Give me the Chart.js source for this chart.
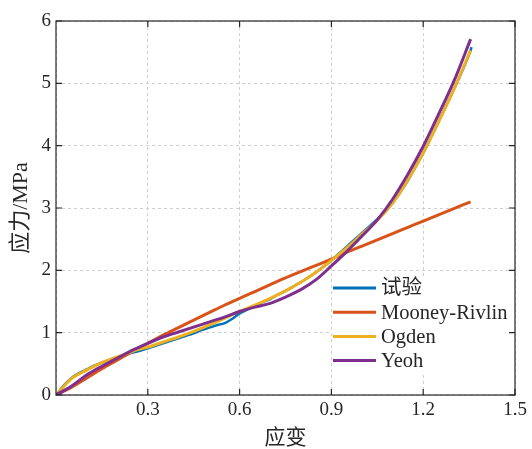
<!DOCTYPE html>
<html>
<head>
<meta charset="utf-8">
<script src="https://cdn.jsdelivr.net/npm/chart.js@4.4.1/dist/chart.umd.min.js"></script>
<style>
html,body{margin:0;padding:0;background:#fff;}
#wrap{width:532px;height:449px;}
</style>
</head>
<body>
<div id="wrap"><canvas id="c" width="532" height="449"></canvas></div>
<script>
const seriesLabels = ['试验', 'Mooney-Rivlin', 'Ogden', 'Yeoh'];
const seriesColors = ['#0072BD', '#D95319', '#EDB120', '#7E2F8E'];
const xTickValues = [0.3, 0.6, 0.9, 1.2, 1.5];
const yTickValues = [0, 1, 2, 3, 4, 5, 6];
const xTitle = '应变';
const yTitle = '应力/MPa';

const testStrain = [0,0.025,0.05,0.075,0.1,0.125,0.15,0.175,0.2,0.225,0.25,0.275,0.3,0.325,0.35,0.375,0.4,0.425,0.45,0.475,0.5,0.525,0.55,0.575,0.6,0.625,0.65,0.675,0.7,0.725,0.75,0.775,0.8,0.825,0.85,0.875,0.9,0.925,0.95,0.975,1.0,1.025,1.05,1.075,1.1,1.125,1.15,1.175,1.2,1.225,1.25,1.275,1.3,1.325,1.35,1.358];
const testStress = [0,0.15,0.27,0.35,0.41,0.47,0.52,0.56,0.60,0.64,0.68,0.71,0.75,0.79,0.83,0.87,0.91,0.95,0.99,1.04,1.08,1.12,1.15,1.22,1.31,1.37,1.43,1.49,1.54,1.61,1.67,1.74,1.81,1.89,1.97,2.06,2.16,2.27,2.38,2.49,2.60,2.71,2.82,2.94,3.08,3.25,3.44,3.66,3.88,4.13,4.38,4.64,4.90,5.17,5.46,5.58];

const modelStrain = [0,0.05,0.1,0.15,0.2,0.25,0.3,0.35,0.4,0.45,0.5,0.55,0.6,0.65,0.7,0.75,0.8,0.85,0.9,0.95,1.0,1.05,1.1,1.15,1.2,1.25,1.3,1.355];
const stressMooney = [0,0.12,0.27,0.42,0.56,0.70,0.83,0.96,1.08,1.20,1.32,1.44,1.55,1.66,1.77,1.88,1.98,2.08,2.18,2.29,2.39,2.49,2.59,2.69,2.79,2.89,2.99,3.10];
const stressOgden = [0,0.26,0.40,0.52,0.61,0.70,0.77,0.85,0.93,1.02,1.12,1.23,1.34,1.44,1.55,1.67,1.81,1.97,2.16,2.36,2.58,2.80,3.08,3.45,3.88,4.38,4.90,5.53];
const stressYeoh = [0,0.14,0.32,0.46,0.59,0.72,0.83,0.93,1.01,1.09,1.17,1.25,1.34,1.41,1.47,1.57,1.69,1.85,2.07,2.30,2.55,2.81,3.14,3.54,3.99,4.50,5.03,5.71];

const pairs = (xs, ys) => xs.map((x, i) => ({x: x, y: ys[i]}));

const FONT = '"Liberation Serif", "Times New Roman", "Noto Sans CJK SC", serif';
const TXT = '#262626';

const framePlugin = {
  id: 'frame',
  afterDatasetsDraw(chart) {
    const ctx = chart.ctx;
    const a = chart.chartArea;
    const xs = chart.scales.x, ys = chart.scales.y;
    // legend (inside plot, lower right, white background)
    const lx = 332, ly0 = 288, step = 24.2;
    ctx.save();
    ctx.fillStyle = '#fff';
    ctx.fillRect(lx, 276, a.right - lx - 1, 98);
    ctx.font = '20.5px ' + FONT;
    ctx.textBaseline = 'middle';
    ctx.textAlign = 'left';
    chart.data.datasets.forEach((ds, i) => {
      const y = ly0 + i * step;
      ctx.strokeStyle = ds.borderColor;
      ctx.lineWidth = 3;
      ctx.beginPath();
      ctx.moveTo(lx + 1, y);
      ctx.lineTo(lx + 44, y);
      ctx.stroke();
      ctx.fillStyle = TXT;
      ctx.fillText(ds.label, lx + 49, y + 1);
    });
    ctx.restore();
    // frame and inward ticks
    ctx.save();
    ctx.strokeStyle = TXT;
    ctx.lineWidth = 1.2;
    ctx.strokeRect(a.left, a.top, a.right - a.left, a.bottom - a.top);
    ctx.beginPath();
    const tl = 6;
    xTickValues.forEach(v => {
      const px = xs.getPixelForValue(v);
      ctx.moveTo(px, a.bottom); ctx.lineTo(px, a.bottom - tl);
      ctx.moveTo(px, a.top); ctx.lineTo(px, a.top + tl);
    });
    yTickValues.forEach(v => {
      const py = ys.getPixelForValue(v);
      ctx.moveTo(a.left, py); ctx.lineTo(a.left + tl, py);
      ctx.moveTo(a.right, py); ctx.lineTo(a.right - tl, py);
    });
    ctx.stroke();
    ctx.restore();
  }
};

new Chart(document.getElementById('c'), {
  type: 'line',
  data: {
    datasets: [
      {label: seriesLabels[0], order: 4, data: pairs(testStrain, testStress), borderColor: seriesColors[0], borderWidth: 2.5, pointRadius: 0, tension: 0.2},
      {label: seriesLabels[1], order: 3, data: pairs(modelStrain, stressMooney), borderColor: seriesColors[1], borderWidth: 3, pointRadius: 0, cubicInterpolationMode: 'monotone'},
      {label: seriesLabels[2], order: 2, data: pairs(modelStrain, stressOgden), borderColor: seriesColors[2], borderWidth: 3, pointRadius: 0, cubicInterpolationMode: 'monotone'},
      {label: seriesLabels[3], order: 1, data: pairs(modelStrain, stressYeoh), borderColor: seriesColors[3], borderWidth: 3, pointRadius: 0, cubicInterpolationMode: 'monotone'}
    ]
  },
  options: {
    responsive: false,
    animation: false,
    devicePixelRatio: 1,
    layout: {padding: {left: 0, right: 17, top: 21, bottom: 0}},
    plugins: {legend: {display: false}, tooltip: {enabled: false}},
    scales: {
      x: {
        type: 'linear', min: 0, max: 1.5,
        afterBuildTicks: s => { s.ticks = [0].concat(xTickValues).map(v => ({value: v})); },
        afterFit: s => { s.height = 54; },
        grid: {color: '#cfcfcf', lineWidth: 1, drawTicks: false},
        border: {display: false, dash: [3, 3]},
        ticks: {font: {family: FONT, size: 19}, color: TXT, padding: 4, maxRotation: 0,
          callback: v => (xTickValues.indexOf(v) >= 0 ? String(v) : '')},
        title: {display: true, text: xTitle, font: {family: FONT, size: 21}, color: TXT, padding: {top: 0, bottom: -2}}
      },
      y: {
        type: 'linear', min: 0, max: 6,
        afterBuildTicks: s => { s.ticks = yTickValues.map(v => ({value: v})); },
        afterFit: s => { s.width = 56; },
        grid: {color: '#cfcfcf', lineWidth: 1, drawTicks: false},
        border: {display: false, dash: [3, 3]},
        ticks: {font: {family: FONT, size: 19}, color: TXT, padding: 5, callback: v => String(v)},
        title: {display: true, text: yTitle, font: {family: FONT, size: 22}, color: TXT, padding: {top: 8, bottom: 0}}
      }
    }
  },
  plugins: [framePlugin]
});
</script>
</body>
</html>
